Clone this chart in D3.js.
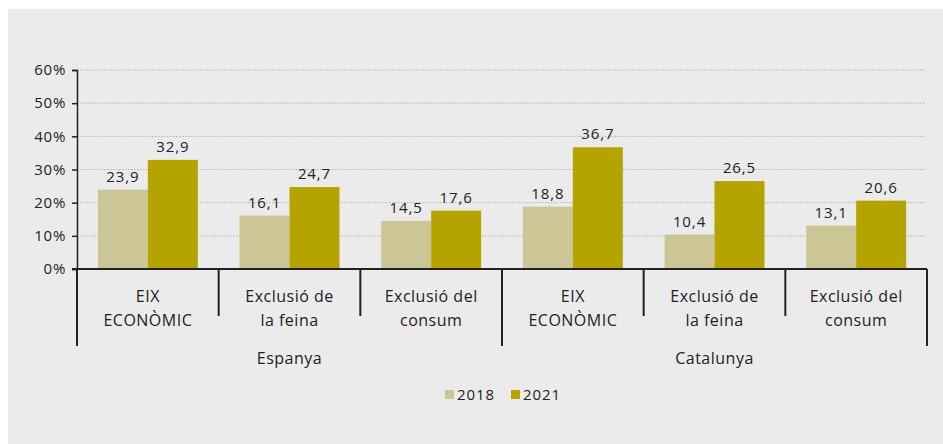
<!DOCTYPE html>
<html><head><meta charset="utf-8">
<script src="https://cdn.jsdelivr.net/npm/d3@7"></script>
<style>body{margin:0;background:#fff}svg{display:block}text{font-family:"Open Sans",sans-serif;fill:#222}</style>
</head><body><svg id="c" width="943" height="444"></svg>
<script>
const groups = ["Espanya","Catalunya"];
const categories = ["EIX ECONÒMIC","Exclusió de la feina","Exclusió del consum"];
const categoryLines = [["EIX","ECONÒMIC"],["Exclusió de","la feina"],["Exclusió del","consum"]];
const years = ["2018","2021"];
const values2018 = [23.9,16.1,14.5,18.8,10.4,13.1];
const values2021 = [32.9,24.7,17.6,36.7,26.5,20.6];
const yTicks = [0,10,20,30,40,50,60];
const colors = ["#ccc596","#b5a300"];

(function(){
const svg = d3.select("#c");
svg.append("rect").attr("x",8).attr("y",9).attr("width",935).attr("height",435).attr("fill","#ebebeb");

const pl=77,pr=927,pt=70,pb=269;
const keys = [];
groups.forEach(g=>categories.forEach(c=>keys.push(g+"|"+c)));
const x = d3.scaleBand().domain(keys).range([pl,pr]).paddingInner(0).paddingOuter(0);
const y = d3.scaleLinear().domain([0,60]).range([pb,pt]);
const xs = d3.scaleBand().domain(years).range([0,x.bandwidth()]).paddingInner(0).paddingOuter(0.417);

// grid
svg.append("g").selectAll("line").data(yTicks.filter(d=>d>0)).join("line")
  .attr("x1",pl).attr("x2",pr-1).attr("y1",d=>y(d)).attr("y2",d=>y(d))
  .attr("stroke","#b0b0b0").attr("stroke-width",1).attr("stroke-dasharray","1.5,1.5");

// y axis
const ya = svg.append("g").attr("transform",`translate(${pl},0)`)
  .call(d3.axisLeft(y).tickValues(yTicks).tickFormat(d=>d+"%").tickSize(5).tickPadding(6));
ya.select(".domain").attr("stroke","#222").attr("stroke-width",1.5);
ya.selectAll(".tick line").attr("stroke","#222").attr("stroke-width",1.5);
ya.selectAll("text").style("font-size","15px").attr("fill","#222").style("font-family","'Open Sans',sans-serif").style("letter-spacing","0.7px");

// bars
const series=[values2018,values2021];
keys.forEach((k,i)=>{
  years.forEach((yr,j)=>{
    const v=series[j][i];
    svg.append("rect").attr("x",x(k)+xs(yr)).attr("y",y(v)).attr("width",xs.bandwidth()).attr("height",y(0)-y(v))
      .attr("fill",colors[j]);
    svg.append("text").attr("x",x(k)+xs(yr)+xs.bandwidth()/2).attr("y",y(v)-8).attr("text-anchor","middle")
      .style("font-size","15px").style("letter-spacing","0.9px").text(String(v).replace(".",","));
  });
});

// x axis baseline
svg.append("line").attr("x1",pl-5).attr("x2",pr).attr("y1",pb).attr("y2",pb).attr("stroke","#222").attr("stroke-width",2);

// separators
keys.forEach((k,i)=>{
  const xx=x(k);
  const long = i%3===0;
  svg.append("line").attr("x1",xx).attr("x2",xx).attr("y1",pb).attr("y2",long?346:316).attr("stroke","#222").attr("stroke-width",2);
});
svg.append("line").attr("x1",pr).attr("x2",pr).attr("y1",pb).attr("y2",346).attr("stroke","#222").attr("stroke-width",2);

// category labels
keys.forEach((k,i)=>{
  const lines=categoryLines[i%3];
  const t=svg.append("text").attr("x",x(k)+x.bandwidth()/2).attr("y",302).attr("text-anchor","middle").style("font-size","16px").style("letter-spacing","0.5px");
  lines.forEach((l,li)=>t.append("tspan").attr("x",x(k)+x.bandwidth()/2).attr("dy",li?24:0).text(l));
});
// group labels
groups.forEach((g,gi)=>{
  const k0=keys[gi*3];
  svg.append("text").attr("x",x(k0)+x.bandwidth()*1.5).attr("y",364).attr("text-anchor","middle").style("font-size","16px").style("letter-spacing","0.5px").text(g);
});

// legend
const lx=[445,511];
years.forEach((yr,j)=>{
  svg.append("rect").attr("x",lx[j]).attr("y",390).attr("width",9).attr("height",9).attr("fill",colors[j]);
  svg.append("text").attr("x",lx[j]+12).attr("y",400).style("font-size","15px").style("letter-spacing","0.9px").text(yr);
});
})();
</script></body></html>
